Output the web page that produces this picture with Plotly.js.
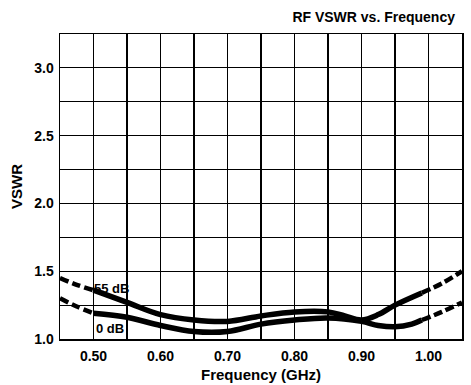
<!DOCTYPE html>
<html>
<head>
<meta charset="utf-8">
<script src="https://cdn.plot.ly/plotly-3.0.1.min.js"></script>
<style>html,body{margin:0;padding:0;background:#fff;}#chart{width:471px;height:385px;}</style>
</head>
<body>
<div id="chart"></div>
<script>
// Data
const freq55 = [0.45, 0.475, 0.50, 0.55, 0.60, 0.65, 0.70, 0.75, 0.80, 0.85, 0.875, 0.90, 0.925, 0.95, 0.99, 1.02, 1.05];
const vswr55 = [1.45, 1.40, 1.36, 1.27, 1.18, 1.14, 1.13, 1.17, 1.20, 1.20, 1.17, 1.14, 1.18, 1.25, 1.34, 1.41, 1.50];
const freq0  = [0.45, 0.475, 0.50, 0.55, 0.60, 0.65, 0.70, 0.75, 0.80, 0.85, 0.90, 0.925, 0.95, 0.975, 0.99, 1.02, 1.05];
const vswr0  = [1.30, 1.24, 1.19, 1.16, 1.10, 1.055, 1.055, 1.11, 1.14, 1.155, 1.13, 1.10, 1.09, 1.11, 1.14, 1.20, 1.27];
const solidFrom = 0.50, solidTo = 0.99;
const xGrid = [0.45,0.50,0.55,0.60,0.65,0.70,0.75,0.80,0.85,0.90,0.95,1.00,1.05];
const xGridText = ['','0.50','','0.60','','0.70','','0.80','','0.90','','1.00',''];
const yGrid = [1.0,1.25,1.5,1.75,2.0,2.25,2.5,2.75,3.0,3.25];
const yGridText = ['1.0','','1.5','','2.0','','2.5','','3.0',''];
const curveLabels = [{text:'55 dB', x:0.527, y:1.375}, {text:'0 dB', x:0.524, y:1.075}];

function seg(xs, ys, lo, hi){
  const x=[], y=[];
  xs.forEach((v,i)=>{ if(v>=lo-1e-9 && v<=hi+1e-9){x.push(v); y.push(ys[i]);} });
  return {x, y};
}
const traces = [];
[[freq55, vswr55], [freq0, vswr0]].forEach(([xs, ys]) => {
  const parts = [
    [seg(xs, ys, 0.45, solidFrom), 'dash'],
    [seg(xs, ys, solidFrom, solidTo), 'solid'],
    [seg(xs, ys, solidTo, 1.05), 'dash']
  ];
  parts.forEach(([p, d]) => {
    traces.push({x:p.x, y:p.y, type:'scatter', mode:'lines', hoverinfo:'skip',
      line:{color:'#000', width: d==='solid'?5.5:4.5, dash: d==='solid'?'solid':'9px,4px', shape:'spline', smoothing:1}});
  });
});

const F = 'Liberation Sans, Arial, sans-serif';
const layout = {
  width:471, height:385,
  margin:{l:60, r:9, t:34, b:46},
  paper_bgcolor:'#fff', plot_bgcolor:'#fff',
  showlegend:false,
  title:{text:'<b>RF VSWR vs. Frequency</b>', font:{family:F, size:14, color:'#000'},
    xref:'container', x:0.966, xanchor:'right', yref:'container', y:0.956, yanchor:'middle'},
  xaxis:{range:[0.45,1.05], tickvals:xGrid, ticktext:xGridText, showgrid:true, gridcolor:'#000', gridwidth:1.2,
    zeroline:false, showline:true, mirror:true, linecolor:'#000', linewidth:1.5, ticks:'', ticklabelstandoff:4,
    tickfont:{family:F, size:14, color:'#000', weight:'bold'},
    title:{text:'<b>Frequency (GHz)</b>', font:{family:F, size:15, color:'#000'}, standoff:6}},
  yaxis:{range:[1.0,3.25], tickvals:yGrid, ticktext:yGridText, showgrid:true, gridcolor:'#000', gridwidth:1.2,
    zeroline:false, showline:true, mirror:true, linecolor:'#000', linewidth:1.5, ticks:'', ticklabelstandoff:2,
    tickfont:{family:F, size:14, color:'#000', weight:'bold'},
    title:{text:'<b>VSWR</b>', font:{family:F, size:15, color:'#000'}, standoff:8}},
  annotations: curveLabels.map(a => ({x:a.x, y:a.y, xref:'x', yref:'y', text:'<b>'+a.text+'</b>', showarrow:false,
    font:{family:F, size:13, color:'#000'}}))
};
Plotly.newPlot('chart', traces, layout, {staticPlot:true, displayModeBar:false});
</script>
</body>
</html>
